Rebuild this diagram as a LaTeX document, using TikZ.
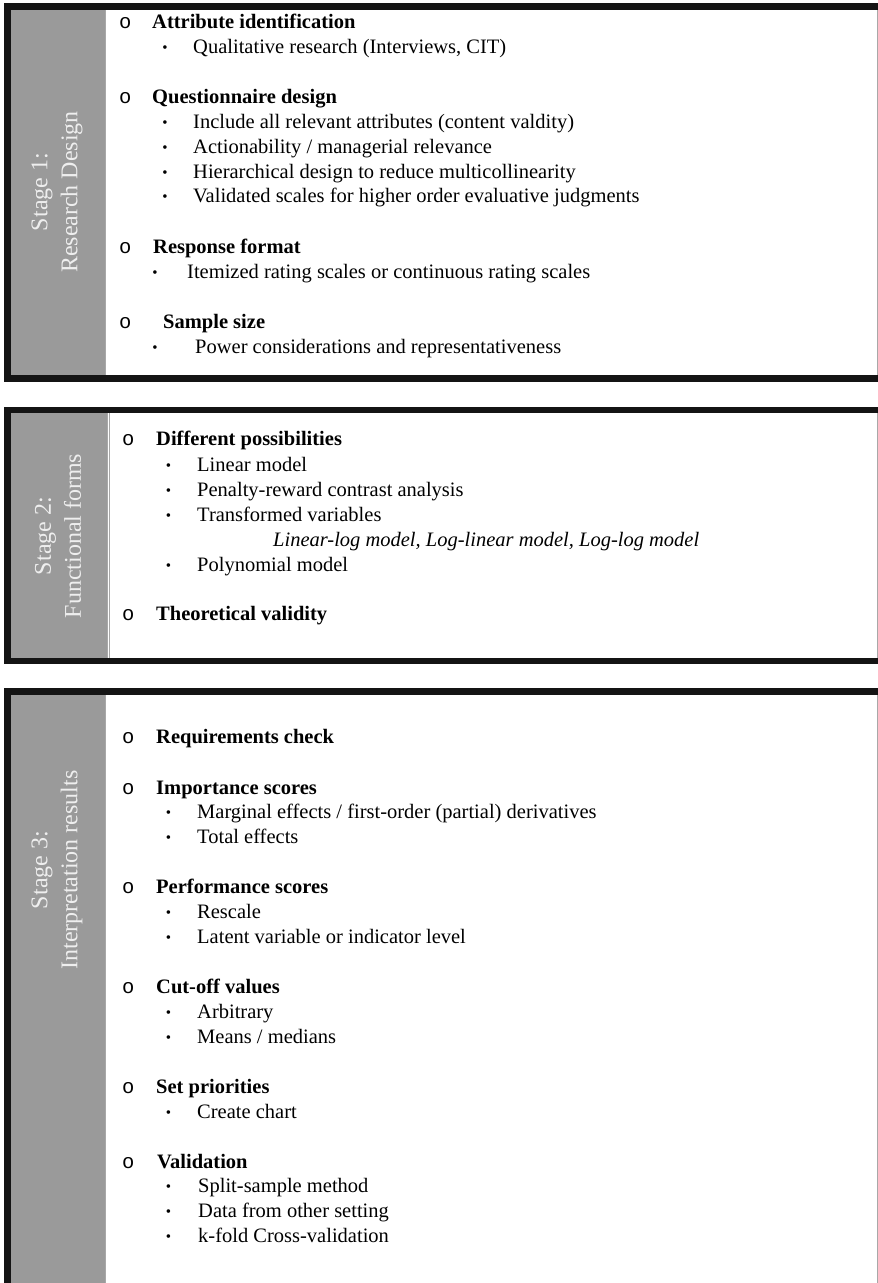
\documentclass[tikz,border=0pt]{standalone}
\usepackage{fontspec}
\setmainfont{Liberation Serif}
\newfontfamily\monofam{Liberation Mono}
\definecolor{bandblack}{HTML}{141414}
\definecolor{sidegray}{HTML}{9A9A9A}
\definecolor{labelwhite}{HTML}{EEEEEE}
\definecolor{edgegray}{HTML}{A8A8A8}
\tikzset{
  band/.style={fill=bandblack, draw=none},
  side/.style={fill=sidegray, draw=none},
  edge/.style={draw=edgegray, line width=1bp},
  stagelabel/.style={rotate=90, align=center, text=labelwhite, inner sep=0,
    font=\fontsize{24bp}{30bp}\selectfont},
  ring/.style={anchor=base west, inner sep=0, font=\monofam\fontsize{20.5bp}{25bp}\selectfont},
  head/.style={anchor=base west, inner sep=0, font=\fontsize{20.5bp}{25bp}\selectfont\bfseries},
  dot/.style={anchor=center, inner sep=0, font=\fontsize{15bp}{17bp}\selectfont},
  item/.style={anchor=base west, inner sep=0, font=\fontsize{20.5bp}{25bp}\selectfont},
  subitem/.style={anchor=base west, inner sep=0, font=\fontsize{20.5bp}{25bp}\selectfont\itshape},
}
\begin{document}
\begin{tikzpicture}[x=1bp, y=-1bp]
\useasboundingbox (0,0) rectangle (878,1283);
\fill[white] (0,0) rectangle (878,1283);

% ---------- Panel 1 frame ----------
\fill[side] (11,10) rectangle (105,375);
\draw[edge] (105.5,10) -- (105.5,375);
\draw[edge] (877,10) -- (877,375);
\fill[band] (4,3) rectangle (878,10);
\fill[band] (4,3) rectangle (11,382);
\fill[band] (4,375) rectangle (878,382);

% ---------- Panel 2 frame ----------
\fill[side] (11,413) rectangle (107,658);
\draw[edge] (107,413) -- (107,658);
\draw[edge] (109,413) -- (109,658);
\draw[edge] (877,413) -- (877,658);
\fill[band] (4,407) rectangle (878,413);
\fill[band] (4,407) rectangle (11,664);
\fill[band] (4,658) rectangle (878,664);

% ---------- Panel 3 frame ----------
\fill[side] (11,695) rectangle (105,1283);
\draw[edge] (105.5,695) -- (105.5,1283);
\draw[edge] (877,695) -- (877,1283);
\fill[band] (4,688) rectangle (878,695);
\fill[band] (4,688) rectangle (11,1283);

% ---------- Stage labels ----------
\node[stagelabel] (s1) at (57,192) {Stage 1:\\Research Design};
\node[stagelabel] (s2) at (58,536) {Stage 2:\\Functional forms};
\node[stagelabel] (s3) at (57,870) {Stage 3:\\Interpretation results};

% ---------- Stage 1 content ----------
\node[ring] (r11) at (119,28.3) {o};
\node[head] (h11) at (152,28.3) {Attribute identification};
\node[dot]  (d111) at (165,49) {•};
\node[item] (i111) at (193,53.3) {Qualitative research (Interviews, CIT)};

\node[ring] (r12) at (119,103) {o};
\node[head] (h12) at (152,103) {Questionnaire design};
\node[dot]  (d121) at (165,123.7) {•};
\node[item] (i121) at (193,128) {Include all relevant attributes (content valdity)};
\node[dot]  (d122) at (165,148.7) {•};
\node[item] (i122) at (193,153) {Actionability / managerial relevance};
\node[dot]  (d123) at (165,173.7) {•};
\node[item] (i123) at (193,178) {Hierarchical design to reduce multicollinearity};
\node[dot]  (d124) at (165,198.2) {•};
\node[item] (i124) at (193,202.5) {Validated scales for higher order evaluative judgments};

\node[ring] (r13) at (119,253) {o};
\node[head] (h13) at (153,253) {Response format};
\node[dot]  (d131) at (155,273.7) {•};
\node[item] (i131) at (187,278) {Itemized rating scales or continuous rating scales};

\node[ring] (r14) at (119,328) {o};
\node[head] (h14) at (163,328) {Sample size};
\node[dot]  (d141) at (155,348.7) {•};
\node[item] (i141) at (195,353) {Power considerations and representativeness};

% ---------- Stage 2 content ----------
\node[ring] (r21) at (122,445) {o};
\node[head] (h21) at (156,445) {Different possibilities};
\node[dot]  (d211) at (168.5,466.7) {•};
\node[item] (i211) at (197,471) {Linear model};
\node[dot]  (d212) at (168.5,491.7) {•};
\node[item] (i212) at (197,496) {Penalty-reward contrast analysis};
\node[dot]  (d213) at (168.5,516.7) {•};
\node[item] (i213) at (197,521) {Transformed variables};
\node[subitem] (i214) at (273,546) {Linear-log model, Log-linear model, Log-log model};
\node[dot]  (d215) at (168.5,566.7) {•};
\node[item] (i215) at (197,571) {Polynomial model};

\node[ring] (r22) at (122,620) {o};
\node[head] (h22) at (156,620) {Theoretical validity};

% ---------- Stage 3 content ----------
\node[ring] (r31) at (122,743) {o};
\node[head] (h31) at (156,743) {Requirements check};

\node[ring] (r32) at (122,794) {o};
\node[head] (h32) at (156,794) {Importance scores};
\node[dot]  (d321) at (168.5,813.7) {•};
\node[item] (i321) at (197,818) {Marginal effects / first-order (partial) derivatives};
\node[dot]  (d322) at (168.5,838.7) {•};
\node[item] (i322) at (197,843) {Total effects};

\node[ring] (r33) at (122,893) {o};
\node[head] (h33) at (156,893) {Performance scores};
\node[dot]  (d331) at (168.5,913.7) {•};
\node[item] (i331) at (197,918) {Rescale};
\node[dot]  (d332) at (168.5,938.7) {•};
\node[item] (i332) at (197,943) {Latent variable or indicator level};

\node[ring] (r34) at (122,993) {o};
\node[head] (h34) at (156,993) {Cut-off values};
\node[dot]  (d341) at (168.5,1013.7) {•};
\node[item] (i341) at (197,1018) {Arbitrary};
\node[dot]  (d342) at (168.5,1038.7) {•};
\node[item] (i342) at (197,1043) {Means / medians};

\node[ring] (r35) at (122,1093) {o};
\node[head] (h35) at (156,1093) {Set priorities};
\node[dot]  (d351) at (168.5,1113.7) {•};
\node[item] (i351) at (197,1118) {Create chart};

\node[ring] (r36) at (122,1168) {o};
\node[head] (h36) at (157,1168) {Validation};
\node[dot]  (d361) at (168.5,1187.7) {•};
\node[item] (i361) at (198,1192) {Split-sample method};
\node[dot]  (d362) at (168.5,1212.7) {•};
\node[item] (i362) at (198,1217) {Data from other setting};
\node[dot]  (d363) at (168.5,1237.7) {•};
\node[item] (i363) at (198,1242) {k-fold Cross-validation};
\end{tikzpicture}
\end{document}
